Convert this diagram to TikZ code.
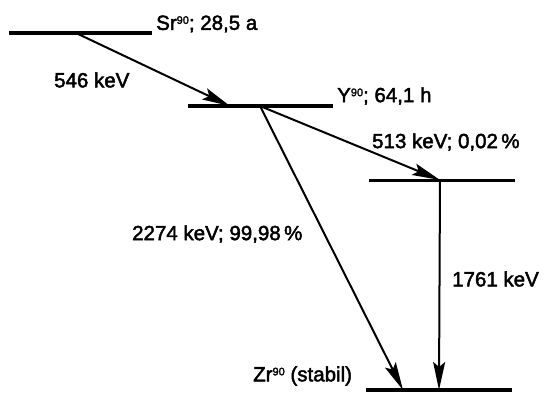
\documentclass[tikz,border=0pt]{standalone}
\usepackage{fontspec}
\setmainfont{Liberation Sans}[FakeBold=2.2,AutoFakeBold=2.2]
\newcommand{\isotop}[1]{\raisebox{0.55ex}{\fontsize{11}{11}\selectfont #1}}
\usetikzlibrary{arrows.meta}
\begin{document}
\begin{tikzpicture}[x=1pt,y=-1pt,
  level/.style={line width=4pt},
  decay/.style={line width=2pt,-{Stealth[length=28pt,width=12pt,inset=5pt]}},
  lbl/.style={font=\fontsize{20.5}{22}\selectfont\bfseries,inner sep=0pt}]
\useasboundingbox (0,0) rectangle (544,392);
% levels
\coordinate (srL) at (9,33);   \coordinate (srR) at (152,33);
\coordinate (yL) at (188,106); \coordinate (yR) at (333,106);
\coordinate (eL) at (369,180); \coordinate (eR) at (515,180);
\coordinate (zL) at (366,390); \coordinate (zR) at (512,390);
\draw[level] (srL) -- (srR);
\draw[level] (yL) -- (yR);
\draw[level,line width=3pt] (eL) -- (eR);
\draw[level] (zL) -- (zR);
% decay points
\coordinate (sr0) at (76,33);
\coordinate (y1) at (230,106);
\coordinate (y0) at (260,106);
\coordinate (e1) at (440,180);
\coordinate (z1) at (403,390);
\coordinate (z2) at (439,390);
\draw[decay] (sr0) -- (y1);
\draw[decay] (y0) -- (e1);
\draw[decay] (y0) -- (z1);
\draw[decay] (e1) -- (z2);
% labels
\node[lbl,anchor=west] (srlab) at (156,24) {Sr\isotop{90}; 28,5 a};
\node[lbl,anchor=west] (ylab) at (337,96) {Y\isotop{90}; 64,1 h};
\node[lbl,anchor=west] (l546) at (54,80) {546 keV};
\node[lbl,anchor=west] (l513) at (372,142) {513 keV; 0,02\,\%};
\node[lbl,anchor=west] (l2274) at (132,234) {2274 keV; 99,98\,\%};
\node[lbl,anchor=west] (l1761) at (452,279) {1761 keV};
\node[lbl,anchor=west] (zrlab) at (253,376) {Zr\isotop{90} (stabil)};
\end{tikzpicture}
\end{document}
